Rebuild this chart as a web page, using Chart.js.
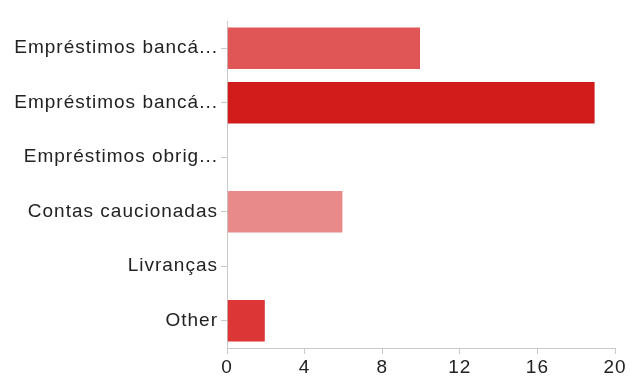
<!DOCTYPE html>
<html>
<head>
<meta charset="utf-8">
<script src="https://cdn.jsdelivr.net/npm/chart.js@4/dist/chart.umd.min.js"></script>
<style>
  html, body { margin: 0; padding: 0; background: #ffffff; }
  #wrap { width: 630px; height: 376px; position: relative; }
</style>
</head>
<body>
<div id="wrap"><canvas id="chart"></canvas></div>
<script>
// Answer categories (long names shortened as displayed)
const categories = [
  "Empréstimos bancá...",
  "Empréstimos bancá...",
  "Empréstimos obrig...",
  "Contas caucionadas",
  "Livranças",
  "Other"
];
// Number of responses per category
const responses = [10, 19, 0, 6, 0, 2];
// Value axis ticks
const xTicks = [0, 4, 8, 12, 16, 20];
const barColors = ["#e05656", "#d21c1c", "#e05656", "#e88a8a", "#e05656", "#dc3636"];

// Slightly looser letter tracking for all chart text
const tracking = {
  id: 'tracking',
  beforeLayout(chart) { chart.ctx.letterSpacing = '1px'; },
  beforeDraw(chart) { chart.ctx.letterSpacing = '1px'; }
};

const labelFont = { family: "Liberation Sans, Arial, sans-serif", size: 19 };

const ctx = document.getElementById('chart');
new Chart(ctx, {
  type: 'bar',
  data: {
    labels: categories,
    datasets: [{
      data: responses,
      backgroundColor: barColors,
      borderColor: "rgba(255,255,255,0.5)",
      borderWidth: 1,
      categoryPercentage: 1.0,
      barPercentage: 0.8
    }]
  },
  options: {
    indexAxis: 'y',
    responsive: true,
    maintainAspectRatio: false,
    animation: false,
    layout: { padding: { top: 21, right: 15, left: 0, bottom: 0 } },
    plugins: { legend: { display: false }, tooltip: { enabled: false } },
    scales: {
      x: {
        min: 0, max: 20,
        afterBuildTicks: (axis) => { axis.ticks = xTicks.map(v => ({ value: v })); },
        grid: { display: true, drawOnChartArea: false, drawTicks: true, tickLength: 6, color: "#c8c8c8" },
        border: { display: true, color: "#c8c8c8", width: 1 },
        ticks: { color: "#222222", font: labelFont, padding: 2, maxRotation: 0 },
        afterFit: (axis) => { axis.height = 28; }
      },
      y: {
        grid: { display: true, offset: false, drawOnChartArea: false, drawTicks: true, tickLength: 6, color: "#c8c8c8" },
        border: { display: true, color: "#c8c8c8", width: 1 },
        ticks: { color: "#222222", font: labelFont, padding: 3, autoSkip: false },
        afterFit: (axis) => { axis.width = 227; }
      }
    }
  },
  plugins: [tracking]
});
</script>
</body>
</html>
